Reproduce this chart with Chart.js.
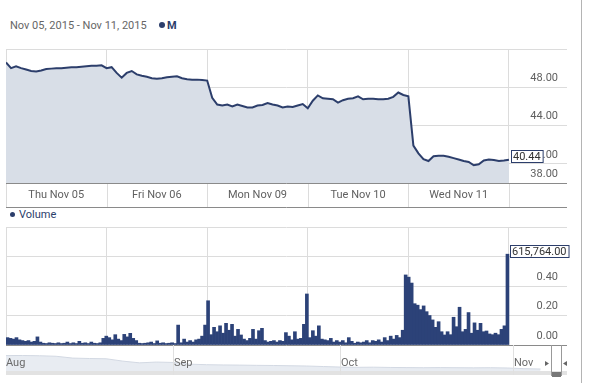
<!DOCTYPE html>
<html><head><meta charset="utf-8">
<script src="https://cdn.jsdelivr.net/npm/chart.js@4.4.0/dist/chart.umd.min.js"></script>
<style>
body{margin:0;background:#fff;}
#wrap{position:relative;width:593px;height:383px;overflow:hidden;font-family:Roboto,"Liberation Sans",Arial,sans-serif;}
canvas{position:absolute;left:0;}
.dot{display:inline-block;border-radius:50%;background:#2c3e6b;}
</style></head><body>
<div id="wrap">
 <div style="position:absolute;left:10px;top:19px;font-size:11px;color:#666;white-space:nowrap;line-height:14px">Nov 05, 2015 - Nov 11, 2015</div>
 <div style="position:absolute;left:159px;top:19px;font-size:11px;font-weight:bold;color:#2c3e6b;line-height:14px;white-space:nowrap"><span class="dot" style="width:6px;height:6px;margin-right:2px;vertical-align:1px"></span>M</div>
 <div style="position:absolute;left:10px;top:208px;font-size:11px;color:#2c3e6b;line-height:14px;white-space:nowrap"><span class="dot" style="width:5px;height:5px;margin-right:4px;vertical-align:1px"></span>Volume</div>
 <canvas id="price" width="593" height="210" style="top:0"></canvas>
 <canvas id="vol" width="593" height="140" style="top:207px"></canvas>
 <canvas id="nav" width="593" height="38" style="top:345px"></canvas>
 <div style="position:absolute;left:581px;top:0;width:1px;height:383px;background:#b4b4b4"></div>
</div>
<script>
// ---------- data ----------
const dayLabels = ['Thu Nov 05','Fri Nov 06','Mon Nov 09','Tue Nov 10','Wed Nov 11'];
const dayTicks = [0,1,2,3,4,5];
const priceTicks = [38,40,44,48,52];
const priceLabelTicks = [38,40,44,48];
// intraday price, one sample every 1/20 of a trading day
const price = [
 50.6,50.0,50.2,50.0,49.85,49.7,49.65,49.75,49.9,49.95,50.0,50.0,50.05,50.1,50.1,50.15,50.2,50.25,50.25,50.3,
 50.0,50.1,49.5,49.0,49.5,49.7,49.35,49.2,49.1,48.95,48.9,48.95,49.05,49.1,49.15,48.95,48.85,48.8,48.8,48.75,48.7,
 46.9,46.2,46.1,46.2,46.0,46.2,46.05,45.9,45.9,46.1,46.15,46.35,46.2,46.1,45.9,46.0,45.95,46.1,46.25,45.8,
 46.6,47.15,46.85,46.8,46.75,46.4,46.65,46.8,46.85,47.05,46.75,46.8,46.8,46.75,46.75,46.8,47.0,47.45,47.2,47.05,
 41.9,41.1,40.5,40.3,40.8,40.85,40.85,40.75,40.6,40.45,40.3,40.2,39.85,39.95,40.35,40.45,40.4,40.3,40.35,40.44
];
// volume in millions
const volume = [
 0.05,0.045,0.04,0.05,0.035,0.03,0.025,0.03,0.02,0.025,0.055,0.02,0.012,0.01,0.015,
 0.012,0.01,0.015,0.01,0.012,0.02,0.01,0.015,0.01,0.025,0.012,0.015,0.01,0.02,0.012,0.01,0.015,
 0.045,0.06,0.05,0.035,0.07,0.04,0.03,0.072,0.055,0.079,0.045,0.03,0.012,
 0.01,0.012,0.015,0.02,0.01,0.028,0.012,0.015,0.01,0.012,0.015,
 0.01,0.135,
 0.015,0.04,0.02,0.03,0.02,0.035,0.04,0.06,0.135,
 0.30,
 0.07,0.12,0.09,0.13,0.08,0.147,0.1,0.14,0.06,0.106,0.068,0.04,
 0.03,0.045,0.106,0.04,0.097,0.113,0.03,0.02,0.025,0.03,0.02,
 0.03,0.025,0.084,0.06,0.035,0.09,0.04,0.045,0.14,0.346,
 0.05,0.097,0.06,0.13,0.04,0.035,0.03,0.045,0.02,0.03,
 0.02,0.03,0.015,0.05,0.025,0.012,0.02,0.015,0.02,0.03,0.015,
 0.03,0.025,0.035,0.02,0.05,0.03,0.06,0.04,0.065,0.05,0.1,0.475,
 0.46,0.42,0.28,0.27,0.24,0.265,0.226,0.2,0.17,0.12,0.158,0.09,0.068,0.09,0.07,0.188,0.124,0.256,0.09,0.106,0.22,0.08,0.15,0.1,0.147,0.09,0.095,0.075,0.07,0.08,0.07,0.106,0.13,0.615764
];
const volTicks = [0,0.2,0.4,0.6,0.8];
const volLabelTicks = [0,0.2,0.4];
// navigator (days since Jul 31, every 3 days)
const navMonths = ['Aug','Sep','Oct','Nov'];
const navMonthDays = [1,31,61,92];
const navValues = [51.7,51.8,51.6,51.2,49.8,49.5,49.3,47.5,46.2,46.8,46.5,45.2,44.8,44.6,44.5,44.3,44.2,44.0,43.8,43.4,43.0,42.8,42.9,42.7,42.6,42.5,42.6,42.5,42.4,42.5,42.3,41.8,41.5];

// ---------- styles ----------
const GRID='#dcdcdc', AXIS='#8a8a8a', LABEL='#606060', NAVY='#2c3e6b';
const FONT='11px Roboto, "Liberation Sans", Arial, sans-serif';
const XMAX = 5.577;
const ticksFrom = arr => s => { s.ticks = arr.map(v=>({value:v})); };
const hline = (ctx,x1,x2,y)=>{ctx.beginPath();ctx.moveTo(x1,Math.round(y)+0.5);ctx.lineTo(x2,Math.round(y)+0.5);ctx.stroke();};
const vline = (ctx,x,y1,y2)=>{ctx.beginPath();ctx.moveTo(Math.round(x)+0.5,y1);ctx.lineTo(Math.round(x)+0.5,y2);ctx.stroke();};
function flag(ctx, text, left, cy){
  ctx.font=FONT; const w=ctx.measureText(text).width+4, h=12;
  const top=Math.round(cy-h/2);
  ctx.fillStyle='#fff'; ctx.fillRect(left,top,w,h);
  ctx.strokeStyle=NAVY; ctx.lineWidth=1; ctx.strokeRect(left+0.5,top+0.5,w,h);
  ctx.fillStyle='#333'; ctx.textAlign='left'; ctx.textBaseline='middle';
  ctx.fillText(text,left+2,top+h/2+1);
}
Chart.defaults.font.family='Roboto, "Liberation Sans", Arial, sans-serif';

// ---------- price chart ----------
const pricePlugin = {id:'priceDeco', afterDraw(chart){
  const {ctx, chartArea:a, scales:{x,y}} = chart;
  ctx.save(); ctx.lineWidth=1;
  ctx.strokeStyle=GRID;
  dayTicks.forEach(v=>vline(ctx,x.getPixelForValue(v),a.bottom,a.bottom+24));
  ctx.strokeStyle=AXIS;
  hline(ctx,a.left,a.right,a.bottom); hline(ctx,a.left,a.right,a.bottom+24);
  ctx.fillStyle=LABEL; ctx.font=FONT; ctx.textAlign='center'; ctx.textBaseline='middle';
  dayLabels.forEach((t,i)=>ctx.fillText(t,x.getPixelForValue(i+0.5),a.bottom+12));
  ctx.textAlign='right';
  priceLabelTicks.forEach(v=>ctx.fillText(v.toFixed(2),a.right-9,y.getPixelForValue(v)-9));
  const last=price[price.length-1];
  flag(ctx,last.toFixed(2),Math.round(x.getPixelForValue((price.length-1)*0.05))+2,y.getPixelForValue(last)-4);
  ctx.restore();
}};
new Chart(document.getElementById('price'),{
  type:'line',
  data:{datasets:[{data:price.map((v,i)=>({x:i*0.05,y:v})),borderColor:NAVY,borderWidth:2,backgroundColor:'#d8dee7',fill:'start',pointRadius:0,tension:0}]},
  options:{responsive:false,animation:false,devicePixelRatio:1,
    layout:{padding:{left:6,top:49,right:26,bottom:27}},
    plugins:{legend:{display:false},tooltip:{enabled:false}},
    scales:{
      x:{type:'linear',min:0,max:XMAX,afterBuildTicks:ticksFrom(dayTicks),ticks:{display:false},grid:{color:GRID,drawTicks:false},border:{display:false}},
      y:{position:'right',min:38,max:52,afterBuildTicks:ticksFrom(priceTicks),ticks:{display:false},grid:{color:GRID,drawTicks:false},border:{display:false}}
    }},
  plugins:[pricePlugin]
});

// ---------- volume chart ----------
const volPlugin = {id:'volDeco', afterDraw(chart){
  const {ctx, chartArea:a, scales:{y}} = chart;
  ctx.save(); ctx.lineWidth=1;
  ctx.strokeStyle=AXIS; hline(ctx,a.left,a.right,a.bottom);
  ctx.fillStyle=LABEL; ctx.font=FONT; ctx.textAlign='right'; ctx.textBaseline='middle';
  volLabelTicks.forEach(v=>ctx.fillText(v.toFixed(2),a.right-9,y.getPixelForValue(v)-9));
  const last=volume[volume.length-1];
  const meta=chart.getDatasetMeta(0).data; const bar=meta[meta.length-1];
  const txt=(last*1e6).toLocaleString('en-US',{minimumFractionDigits:2,maximumFractionDigits:2});
  flag(ctx,txt,Math.round(bar.x+bar.width/2)+1,y.getPixelForValue(last)-3);
  ctx.restore();
}};
new Chart(document.getElementById('vol'),{
  type:'bar',
  data:{datasets:[{data:volume.map((v,i)=>({x:(i+0.5)*5/volume.length,y:v})),backgroundColor:'#2c4278',borderWidth:0,barPercentage:1,categoryPercentage:1}]},
  options:{responsive:false,animation:false,devicePixelRatio:1,
    layout:{padding:{left:6,top:20,right:26,bottom:2}},
    plugins:{legend:{display:false},tooltip:{enabled:false}},
    scales:{
      x:{type:'linear',offset:false,min:0,max:XMAX,afterBuildTicks:ticksFrom(dayTicks),ticks:{display:false},grid:{color:GRID,drawTicks:false,offset:false},border:{display:false}},
      y:{position:'right',min:0,max:0.8,afterBuildTicks:ticksFrom(volTicks),ticks:{display:false},grid:{color:GRID,drawTicks:false},border:{display:false}}
    }},
  plugins:[volPlugin]
});

// ---------- navigator ----------
const navPlugin = {id:'navDeco', afterDraw(chart){
  const {ctx, chartArea:a, scales:{x}} = chart;
  ctx.save(); ctx.lineWidth=1;
  ctx.fillStyle='#e2e2e2'; ctx.fillRect(a.left,a.bottom,567-a.left,4);
  ctx.strokeStyle='#e0e0e0';
  ctx.font=FONT; ctx.textAlign='left'; ctx.textBaseline='middle'; 
  navMonthDays.forEach((d,i)=>{
    const px=Math.round(x.getPixelForValue(d));
    if(i>0) vline(ctx,px,0,a.bottom+4);
    ctx.fillStyle='#6a6a6a'; ctx.fillText(navMonths[i],px+(i>0?1:0),18);
  });
  ctx.strokeStyle='#999';
  vline(ctx,551,0,a.bottom+5); vline(ctx,561,0,a.bottom+5);
  ctx.fillStyle='#777'; ctx.fillRect(552,a.bottom+1,9,5);
  ctx.fillStyle='#666';
  ctx.beginPath(); ctx.moveTo(545,16); ctx.lineTo(549,18.5); ctx.lineTo(545,21); ctx.closePath(); ctx.fill();
  ctx.beginPath(); ctx.moveTo(567,16); ctx.lineTo(563,18.5); ctx.lineTo(567,21); ctx.closePath(); ctx.fill();
  ctx.restore();
}};
new Chart(document.getElementById('nav'),{
  type:'line',
  data:{datasets:[{data:navValues.map((v,i)=>({x:1+i*3,y:v})),borderColor:'#d3d9e3',borderWidth:1,backgroundColor:'#e8ecf2',fill:'start',pointRadius:0,tension:0}]},
  options:{responsive:false,animation:false,devicePixelRatio:1,
    layout:{padding:{left:6,top:1,right:43,bottom:12}},
    plugins:{legend:{display:false},tooltip:{enabled:false}},
    scales:{
      x:{type:'linear',min:1,max:98.7,ticks:{display:false},grid:{display:false,drawTicks:false},border:{display:false}},
      y:{min:40,max:59,ticks:{display:false},grid:{display:false,drawTicks:false},border:{display:false}}
    }},
  plugins:[navPlugin]
});
</script>
</body></html>
